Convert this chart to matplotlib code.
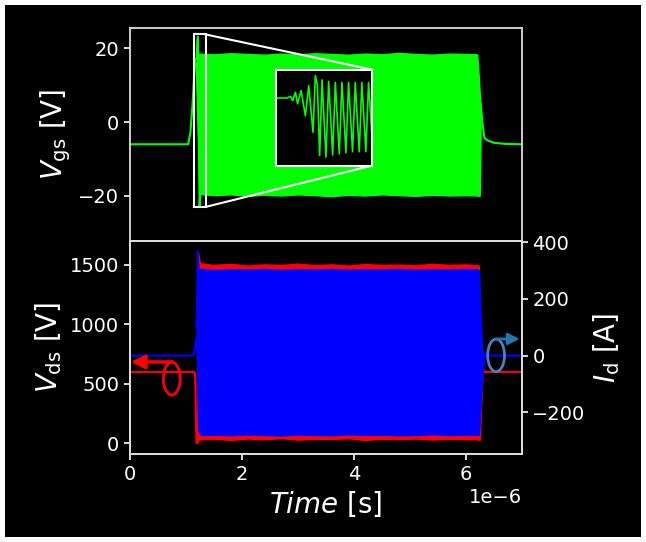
import matplotlib
matplotlib.use("Agg")
import matplotlib.pyplot as plt
import numpy as np
from matplotlib.patches import Rectangle, Ellipse, ConnectionPatch

# ---- data (time in microseconds, scaled to seconds below) ----
# Vgs, top panel
vgs_pre_t = [0, 1.04, 1.08, 1.12, 1.15, 1.17]
vgs_pre_v = [-6, -6, -3, 5, 13, 17]
vgs_spike_t = [1.19, 1.205, 1.215, 1.23, 1.245, 1.26]
vgs_spike_v = [17, 22, 23.2, 5, -23, -18]
vgs_env_t = [1.18, 1.24, 1.5, 1.8, 2.1, 2.4, 2.7, 3.0, 3.3, 3.6, 3.9, 4.2,
             4.5, 4.8, 5.1, 5.4, 5.7, 6.0, 6.2, 6.23, 6.245, 6.26]
vgs_env_hi = [16, 18.6, 18.4, 18.7, 18.5, 18.3, 18.6, 18.4, 18.7, 18.5, 18.3,
              18.6, 18.4, 18.8, 18.5, 18.3, 18.6, 18.5, 18.4, 12, 8, 5]
vgs_env_lo = [14, -19.5, -19.8, -19.6, -20.0, -19.7, -19.9, -19.6, -19.8, -20.1,
              -19.7, -19.9, -19.6, -19.8, -20.0, -19.7, -19.9, -19.8, -19.9, -20, -20, -5]
vgs_post_t = [6.26, 6.27, 6.3, 6.33, 6.39, 6.5, 6.7, 7.0]
vgs_post_v = [5, 3.9, -1, -4.3, -5, -5.6, -5.9, -6]

# inset: ringing at turn-on (ns, V)
ins_t = [0, 11, 14.6, 17, 19.8, 22, 25.7, 30.2, 33.7, 38.2, 40.6, 42.7, 45.1,
         47.6, 51.7, 54.5, 58.7, 61.5, 65.6, 68.4, 72.6, 75.3, 79.5, 82.3,
         86.5, 89.2, 93.4, 96.2, 99.6]
ins_v = [6.7, 6.7, 7.5, 5.5, 9.4, 4, 10.2, -1.6, 12.5, -9.4, 17.2, 13, -20.3,
         15.2, -21, 14.5, -20, 14, -19.5, 14, -19, 14, -18.5, 14, -18.5, 14,
         -18.5, 14, -10]

# Vds, bottom panel (left axis)
vds_pre_t = [0, 1.15, 1.165, 1.18, 1.19, 1.2]
vds_pre_v = [600, 600, 590, 200, 5, 5]
vds_env_t = [1.2, 1.215, 1.25, 1.5, 1.8, 2.1, 2.4, 2.7, 3.0, 3.3, 3.6, 3.9,
             4.2, 4.5, 4.8, 5.1, 5.4, 5.7, 6.0, 6.2, 6.23, 6.245, 6.27, 6.3, 6.33]
vds_env_hi = [1200, 1610, 1515, 1500, 1510, 1495, 1505, 1500, 1512, 1498, 1505,
              1495, 1508, 1500, 1503, 1497, 1510, 1500, 1505, 1498, 1495, 1000,
              700, 640, 600]
vds_env_lo = [5, 20, 35, 40, 30, 42, 35, 45, 32, 40, 38, 44, 30, 40, 36, 42,
              33, 40, 37, 35, 30, 30, 300, 630, 600]
vds_post_t = [6.33, 6.4, 7.0]
vds_post_v = [600, 600, 600]

# Id, bottom panel (right axis)
id_pre_t = [0, 1.13, 1.16, 1.19]
id_pre_v = [0, 0, 20, 61]
id_spike_t = [1.19, 1.215, 1.225]
id_spike_v = [100, 368, 300]
id_env_t = [1.19, 1.22, 1.26, 1.5, 1.8, 2.1, 2.4, 2.7, 3.0, 3.3, 3.6, 3.9,
            4.2, 4.5, 4.8, 5.1, 5.4, 5.7, 6.0, 6.2, 6.23, 6.255, 6.28, 6.3, 6.33]
id_env_hi = [61, 304, 306, 303, 305, 304, 306, 303, 305, 304, 306, 303, 305,
             304, 306, 303, 305, 304, 306, 305, 300, 166, 62, 20, 3]
id_env_lo = [40, -262, -280, -279, -281, -278, -280, -282, -279, -280, -281,
             -278, -280, -279, -281, -280, -278, -280, -279, -280, -280, -200,
             -120, -60, -5]
id_post_t = [6.33, 6.4, 7.0]
id_post_v = [3, 0, 0]

us = 1e-6
def s(t):
    return np.array(t) * us

plt.rcParams['font.family'] = ['DejaVu Sans']
plt.rcParams['mathtext.fontset'] = 'dejavusans'

fig = plt.figure(figsize=(6.46, 5.42), dpi=100, facecolor='black',
                 edgecolor='white', linewidth=7)
gs = fig.add_gridspec(2, 1, left=0.201, right=0.808, top=0.948, bottom=0.162,
                      hspace=0)
ax1 = fig.add_subplot(gs[0])
ax2 = fig.add_subplot(gs[1], sharex=ax1)
ax3 = ax2.twinx()

spine_col = '#dddddd'
for a in (ax1, ax2, ax3):
    a.set_facecolor('black')
    for sp in a.spines.values():
        sp.set_color(spine_col)
        sp.set_linewidth(1.3)
    a.tick_params(colors='white', labelsize=14, width=1.2, length=4)
ax3.patch.set_visible(False)

# ---- top: Vgs ----
G = '#00ff00'
ax1.plot(s(vgs_pre_t), vgs_pre_v, color=G, lw=1.5)
ax1.fill_between(s(vgs_env_t), vgs_env_lo, vgs_env_hi, color=G, lw=1)
ax1.plot(s(vgs_spike_t), vgs_spike_v, color=G, lw=1.5)
ax1.plot(s(vgs_post_t), vgs_post_v, color=G, lw=1.5)
ax1.set_ylim(-32.3, 25.5)
ax1.set_yticks([-20, 0, 20])
ax1.set_ylabel(r'$V_\mathrm{gs}$ [V]', color='white', fontsize=20)
ax1.tick_params(axis='x', which='both', bottom=False, labelbottom=False)

# zoom box + inset
rect_x0, rect_x1 = 1.139, 1.352
rect_y0, rect_y1 = -23.0, 23.8
ax1.add_patch(Rectangle((rect_x0 * us, rect_y0), (rect_x1 - rect_x0) * us,
                        rect_y1 - rect_y0, fill=False, ec='white', lw=1.5,
                        zorder=5))
axins = ax1.inset_axes([0.374, 0.355, 0.244, 0.45])
axins.set_facecolor('black')
axins.plot(ins_t, ins_v, color=G, lw=1.2)
axins.set_xlim(0, 100)
axins.set_ylim(-25, 20)
axins.set_xticks([])
axins.set_yticks([])
for sp in axins.spines.values():
    sp.set_color('white')
    sp.set_linewidth(1.5)
for (xa, ya), (xb, yb) in [((rect_x1 * us, rect_y1), (1, 1)),
                           ((rect_x1 * us, rect_y0), (1, 0))]:
    con = ConnectionPatch(xyA=(xa, ya), coordsA=ax1.transData,
                          xyB=(xb, yb), coordsB=axins.transAxes,
                          color='white', lw=1.5)
    ax1.add_artist(con)

# ---- bottom: Vds (left) and Id (right) ----
R = '#ff0000'
B = '#0000ff'
ax2.plot(s(vds_pre_t), vds_pre_v, color=R, lw=1.5)
ax2.fill_between(s(vds_env_t), vds_env_lo, vds_env_hi, color=R, lw=1)
ax2.plot(s(vds_post_t), vds_post_v, color=R, lw=1.5)
ax2.set_ylim(-90, 1700)
ax2.set_yticks([0, 500, 1000, 1500])
ax2.set_ylabel(r'$V_\mathrm{ds}$ [V]', color='white', fontsize=20)

ax3.plot(s(id_pre_t), id_pre_v, color=B, lw=1.5)
ax3.fill_between(s(id_env_t), id_env_lo, id_env_hi, color=B, lw=1)
ax3.plot(s(id_spike_t), id_spike_v, color=B, lw=1.5)
ax3.plot(s(id_post_t), id_post_v, color=B, lw=1.5)
ax3.set_ylim(-348, 404)
ax3.set_yticks([-200, 0, 200, 400])
ax3.set_ylabel(r'$I_\mathrm{d}$ [A]', color='white', fontsize=20)

ax2.set_xlim(0, 7e-6)
ax2.set_xlabel(r'$Time$ [s]', color='white', fontsize=20)
ax2.xaxis.get_offset_text().set_color('white')
ax2.xaxis.get_offset_text().set_fontsize(14)

# ellipses and arrows marking which axis each trace belongs to
ax3.add_patch(Ellipse((0.107, 0.355), 0.043, 0.153, transform=ax2.transAxes,
                      fill=False, ec=R, lw=2, zorder=6))
ax3.annotate('', xy=(0.003, 0.433), xytext=(0.109, 0.433),
             xycoords=ax2.transAxes, textcoords=ax2.transAxes,
             arrowprops=dict(arrowstyle='-|>', color=R, lw=2.5,
                             mutation_scale=20, shrinkA=0, shrinkB=0),
             zorder=6)
ax3.add_patch(Ellipse((0.934, 0.464), 0.043, 0.153, transform=ax2.transAxes,
                      fill=False, ec='#4a7fc1', lw=2, zorder=6))
ax3.annotate('', xy=(0.994, 0.541), xytext=(0.934, 0.541),
             xycoords=ax2.transAxes, textcoords=ax2.transAxes,
             arrowprops=dict(arrowstyle='-|>', color='#1f77b4', lw=2,
                             mutation_scale=17, shrinkA=0, shrinkB=0),
             zorder=6)

fig.savefig('out.png', dpi=100, facecolor=fig.get_facecolor(),
            edgecolor=fig.get_edgecolor())
